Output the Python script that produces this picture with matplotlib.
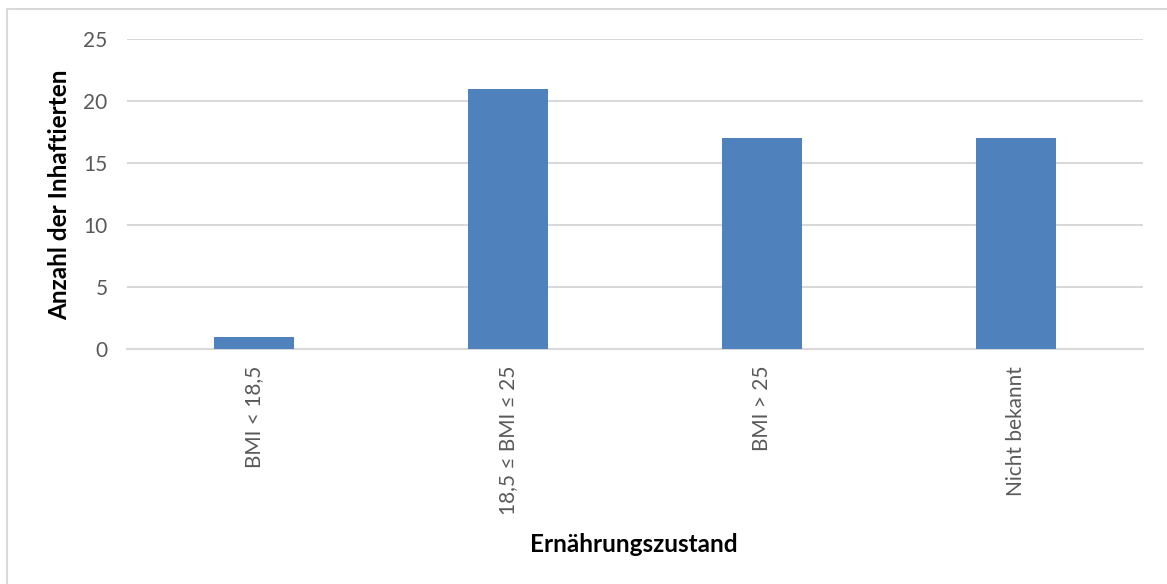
import matplotlib
matplotlib.use("Agg")
import matplotlib.pyplot as plt
from matplotlib.patches import Rectangle

categories = ["BMI < 18,5", "18,5 ≤ BMI ≤ 25", "BMI > 25", "Nicht bekannt"]
counts = [1, 21, 17, 17]
y_ticks = [0, 5, 10, 15, 20, 25]

W, H = 1167, 584
fig = plt.figure(figsize=(W / 100, H / 100), dpi=100)
fig.patch.set_facecolor("white")

# outer chart frame
fig.add_artist(Rectangle((7 / W, -0.05), 1.2, 1 - 9 / H + 0.05,
                         transform=fig.transFigure, fill=False,
                         edgecolor="#d9d9d9", linewidth=1.5))

left, right = 127 / W, 1143 / W
bottom, top = 1 - 349 / H, 1 - 39 / H
ax = fig.add_axes([left, bottom, right - left, top - bottom])

x = list(range(len(categories)))
ax.bar(x, counts, width=0.315, color="#4f81bd", zorder=3)

ax.set_xlim(-0.5, len(categories) - 0.5)
ax.set_ylim(0, 25)
ax.set_yticks(y_ticks)
ax.set_yticklabels([str(v) for v in y_ticks])
ax.set_xticks(x)
ax.set_xticklabels(categories, rotation=90, va="top", ha="center")

ax.yaxis.grid(True, color="#d9d9d9", linewidth=1.5, zorder=0)
ax.set_axisbelow(True)
for s in ["top", "right", "left"]:
    ax.spines[s].set_visible(False)
ax.spines["bottom"].set_color("#d9d9d9")
ax.spines["bottom"].set_linewidth(1.5)
ax.tick_params(axis="both", length=0, colors="#595959", labelsize=15)
ax.tick_params(axis="x", pad=12)
ax.tick_params(axis="y", pad=14)
for lbl in ax.get_xticklabels() + ax.get_yticklabels():
    lbl.set_fontfamily("Lato")

fig.text(60 / W, 1 - 195 / H, "Anzahl der Inhaftierten", fontsize=17.5,
         fontweight="bold", family="Lato", color="black", rotation=90,
         ha="center", va="center")
fig.text(634 / W, 1 - 545 / H, "Ernährungszustand", fontsize=17.5,
         fontweight="bold", family="Lato", color="black",
         ha="center", va="center")

fig.savefig("out.png", dpi=100, facecolor="white")
